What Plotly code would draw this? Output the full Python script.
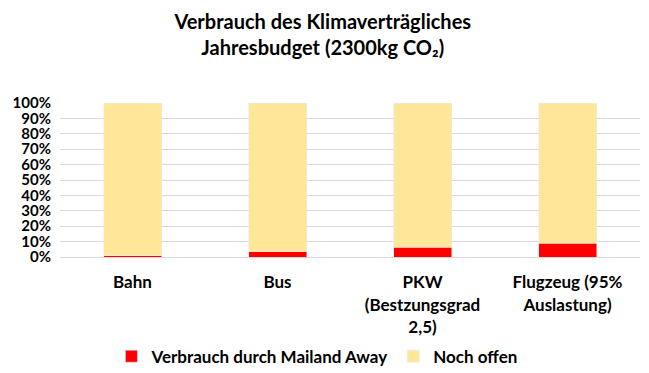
import plotly.graph_objects as go

categories = ["Bahn", "Bus", "PKW<br>(Bestzungsgrad<br>2,5)", "Flugzeug (95%<br>Auslastung)"]
verbrauch = [0.8, 3.3, 6.2, 8.8]
offen = [100 - v for v in verbrauch]
tick_vals = list(range(0, 101, 10))
tick_text = [f"{v}%" for v in tick_vals]

FONT = "Lato"

fig = go.Figure()
fig.add_trace(go.Bar(x=categories, y=verbrauch, name="Verbrauch durch Mailand Away",
                     marker_color="#FF0000", width=0.4))
fig.add_trace(go.Bar(x=categories, y=offen, name="Noch offen",
                     marker_color="#FFE699", width=0.4))

fig.update_layout(
    barmode="stack",
    width=649, height=373,
    margin=dict(l=52, r=17, t=95, b=124, autoexpand=False),
    paper_bgcolor="white", plot_bgcolor="white",
    font=dict(family=FONT, size=17, color="#000000", weight="bold"),
    title=dict(text="Verbrauch des Klimaverträgliches<br>Jahresbudget (2300kg CO₂)",
               x=0.485, xanchor="center", y=0.945, yanchor="top",
               font=dict(family=FONT, size=20, color="#000000", weight="bold")),
    showlegend=True,
    legend=dict(orientation="h", x=0.443, xanchor="center",
                y=-0.647, yanchor="middle",
                font=dict(family=FONT, size=17, color="#000000", weight="bold"),
                traceorder="normal"),
)
fig.update_yaxes(range=[0, 100], tickvals=tick_vals, ticktext=tick_text,
                 tickfont=dict(family=FONT, size=15, color="#000000", weight="bold"),
                 showgrid=True, gridcolor="#D9D9D9", gridwidth=1, zeroline=False,
                 showline=False, ticks="", ticklabelstandoff=8, automargin=False)
fig.update_xaxes(showgrid=False, showline=True, linecolor="#D9D9D9", linewidth=1,
                 ticks="", tickangle=0, ticklabelstandoff=10, automargin=False,
                 tickfont=dict(family=FONT, size=17, color="#000000", weight="bold"))

fig.write_html("out.html")
